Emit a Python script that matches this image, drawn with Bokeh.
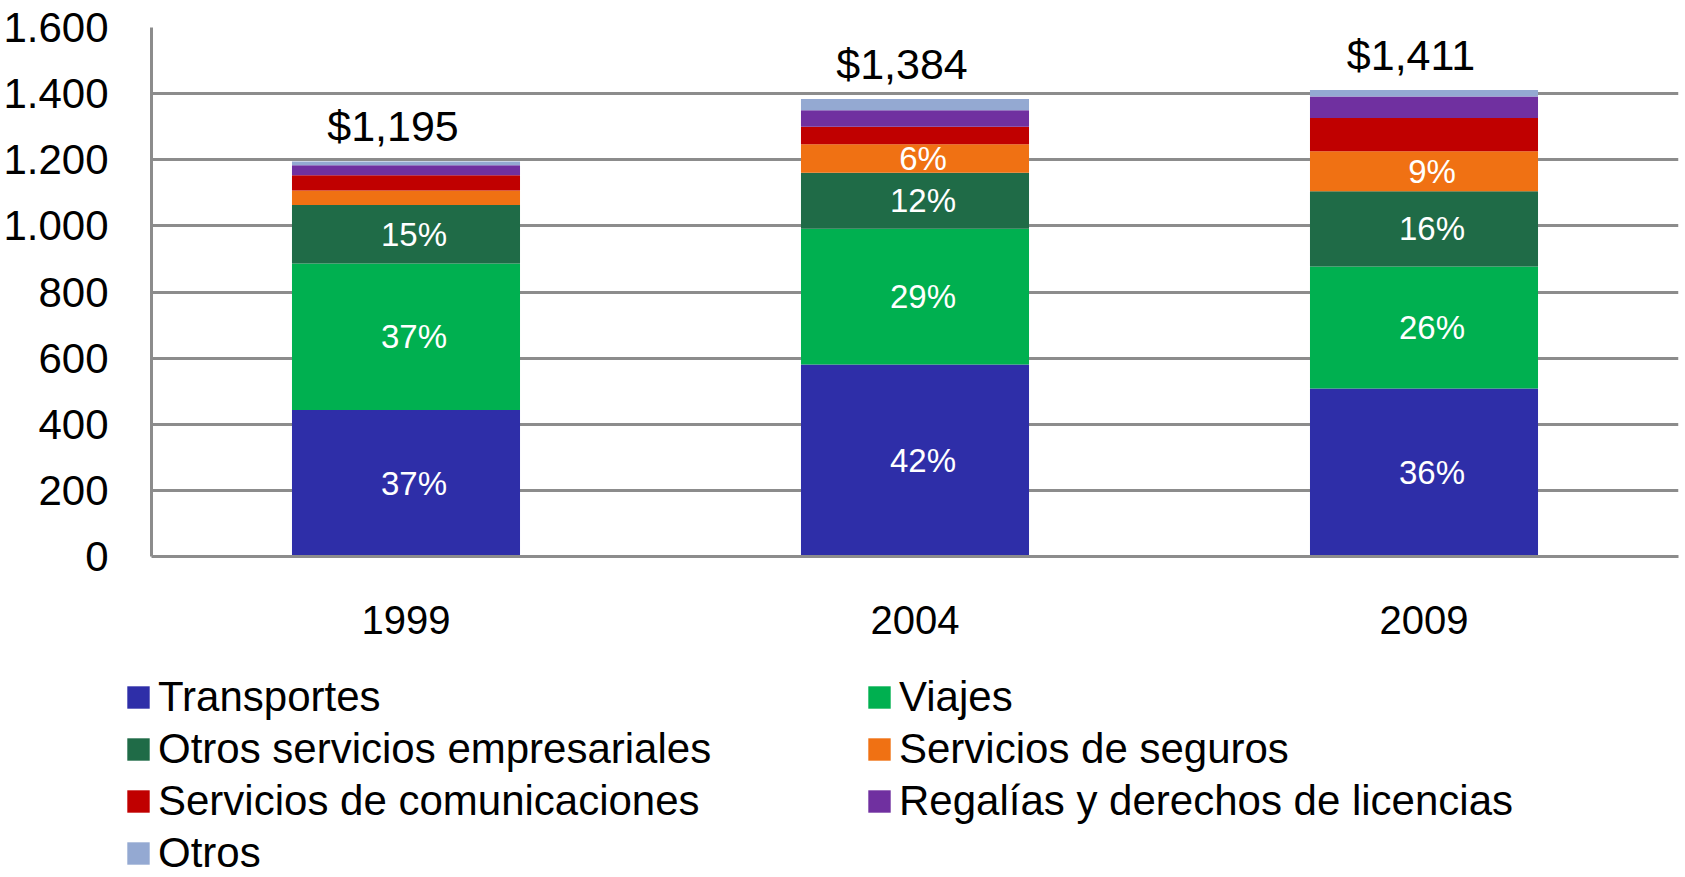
from bokeh.plotting import figure
from bokeh.models import (ColumnDataSource, FactorRange, Range1d, FixedTicker,
                          Legend, LegendItem)
from bokeh.embed import file_html
from bokeh.resources import INLINE
from bokeh.core.properties import value

# ---------------- data ----------------
years = ["1999", "2004", "2009"]
series_names = [
    "Transportes",
    "Viajes",
    "Otros servicios empresariales",
    "Servicios de seguros",
    "Servicios de comunicaciones",
    "Regalías y derechos de licencias",
    "Otros",
]
transportes = [443, 581, 508]
viajes = [443, 410, 369]
otros_serv_emp = [177, 170, 228]
seguros = [44, 86, 121]
comunicaciones = [46, 53, 100]
regalias = [30, 50, 65]
otros = [12, 34, 20]

totals = [1195, 1384, 1411]
total_labels = ["$1,195", "$1,384", "$1,411"]

pct_transportes = ["37%", "42%", "36%"]
pct_viajes = ["37%", "29%", "26%"]
pct_otros_serv_emp = ["15%", "12%", "16%"]
pct_seguros = ["", "6%", "9%"]

y_ticks = [0, 200, 400, 600, 800, 1000, 1200, 1400, 1600]
y_tick_labels = ["0", "200", "400", "600", "800", "1.000", "1.200", "1.400", "1.600"]

colors = ["#2E2EA8", "#00B050", "#1F6B47", "#F07113", "#C00000", "#7030A0", "#94A9D2"]

FONT = "Liberation Sans"
GRID = "#8c8c8c"

# ---------------- main chart ----------------
keys = ["transportes", "viajes", "ose", "seguros", "comunicaciones", "regalias", "otros"]
series = [transportes, viajes, otros_serv_emp, seguros, comunicaciones, regalias, otros]
src = ColumnDataSource(dict(year=years, **{k: v for k, v in zip(keys, series)}))

p = figure(x_range=FactorRange(factors=years), y_range=Range1d(0, 1600),
           width=1680, height=651, output_backend="svg", toolbar_location=None,
           min_border_left=151, min_border_right=2, min_border_top=27,
           min_border_bottom=95)
p.outline_line_color = None

p.vbar_stack(keys, x="year", width=0.448, fill_color=colors, line_color=None,
             source=src)

# percentage labels (centred in their segments)
lab_x, lab_y, lab_t = [], [], []
for i, yr in enumerate(years):
    base = 0
    for vals, labs in ((transportes, pct_transportes), (viajes, pct_viajes),
                       (otros_serv_emp, pct_otros_serv_emp), (seguros, pct_seguros)):
        if labs[i]:
            lab_x.append(yr)
            lab_y.append(base + vals[i] / 2)
            lab_t.append(labs[i])
        base += vals[i]
p.text(x=lab_x, y=lab_y, text=lab_t, text_font=value(FONT), text_font_size="33px",
       text_color="white", text_align="center", text_baseline="middle", x_offset=8)

# totals above bars
p.text(x=years, y=totals, text=total_labels, text_font=value(FONT),
       text_font_size="43px", text_color="black", text_align="center",
       text_baseline="bottom", y_offset=-11, x_offset=-13)

# axes / grid
p.yaxis.ticker = FixedTicker(ticks=y_ticks)
p.yaxis.major_label_overrides = {t: l for t, l in zip(y_ticks, y_tick_labels)}
for ax in (p.xaxis, p.yaxis):
    ax.axis_line_color = GRID
    ax.axis_line_width = 3
    ax.major_tick_line_color = None
    ax.minor_tick_line_color = None
    ax.major_label_text_font = FONT
    ax.major_label_text_color = "black"
p.yaxis.major_label_text_font_size = "42px"
p.xaxis.major_label_text_font_size = "40px"
p.yaxis.major_label_standoff = 37
p.xaxis.major_label_standoff = 43
p.xgrid.grid_line_color = None
p.ygrid.grid_line_color = GRID
p.ygrid.grid_line_width = 3

# ---------------- legend panel (separate root, own frame from x=0) ----------------
lf = figure(width=1680, height=226, x_range=Range1d(0, 1), y_range=Range1d(0, 1),
            output_backend="svg", toolbar_location=None,
            x_axis_location=None, y_axis_location=None,
            min_border_left=0, min_border_right=0, min_border_top=0, min_border_bottom=0)
lf.outline_line_color = None
lf.grid.visible = False
# legend-only renderers: a single mark kept outside the visible range
rends = [lf.vbar(x=[-5], top=[-5], width=0.5, fill_color=c, line_color=None) for c in colors]

common = dict(orientation="vertical", glyph_width=28, glyph_height=28, label_standoff=6,
              label_text_font=FONT, label_text_font_size="42px", label_text_color="black",
              label_height=47, spacing=4, padding=0, margin=0, border_line_color=None,
              background_fill_alpha=0)
leg1 = Legend(items=[LegendItem(label=series_names[i], renderers=[rends[i]]) for i in (0, 2, 4, 6)],
              location=(124, 0), **common)
leg2 = Legend(items=[LegendItem(label=series_names[i], renderers=[rends[i]]) for i in (1, 3, 5)],
              location=(865, 52), **common)
lf.add_layout(leg1)
lf.add_layout(leg2)

open("out.html", "w").write(file_html((p, lf), INLINE))
